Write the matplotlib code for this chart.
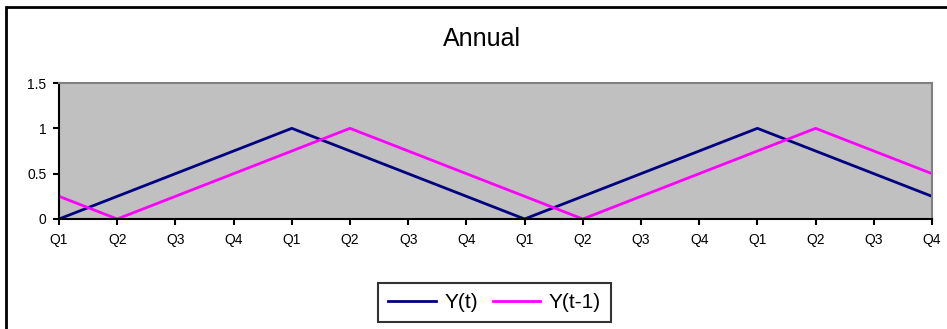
import matplotlib
matplotlib.use("Agg")
import matplotlib.pyplot as plt
from matplotlib.patches import Rectangle

plt.rcParams['font.family'] = ['Liberation Sans', 'DejaVu Sans']

# data
quarters = ["Q1", "Q2", "Q3", "Q4"] * 4
y_t = [0, 0.25, 0.5, 0.75, 1, 0.75, 0.5, 0.25, 0, 0.25, 0.5, 0.75, 1, 0.75, 0.5, 0.25]
y_t1 = [0.25, 0, 0.25, 0.5, 0.75, 1, 0.75, 0.5, 0.25, 0, 0.25, 0.5, 0.75, 1, 0.75, 0.5]
y_ticks = [0, 0.5, 1, 1.5]
y_tick_labels = ["0", "0.5", "1", "1.5"]

W, H = 947, 329
fig = plt.figure(figsize=(W / 100, H / 100), dpi=100)

# outer chart border (clipped on right and bottom like the original)
fig.patches.append(Rectangle((6 / W, 1 - 330 / H), 960 / W, 323 / H,
                             transform=fig.transFigure, fill=False,
                             edgecolor="black", linewidth=2))

ax = fig.add_axes([59 / W, 1 - 219 / H, (932 - 59) / W, (219 - 83) / H])
ax.set_facecolor("#C0C0C0")

x = list(range(len(quarters)))
ax.plot(x, y_t, color="#000080", linewidth=2, label="Y(t)")
ax.plot(x, y_t1, color="#FF00FF", linewidth=2, label="Y(t-1)")

ax.set_xlim(0, len(quarters) - 1)
ax.set_ylim(0, 1.5)
ax.set_xticks(x)
ax.set_xticklabels(quarters, fontsize=10)
ax.set_yticks(y_ticks)
ax.set_yticklabels(y_tick_labels, fontsize=10)
ax.tick_params(direction="out", length=4, width=1.5, colors="black")
ax.tick_params(axis="x", pad=6)
ax.tick_params(axis="y", pad=5)

for side in ["left", "bottom"]:
    ax.spines[side].set_color("black")
    ax.spines[side].set_linewidth(1.5)
for side in ["top", "right"]:
    ax.spines[side].set_color("#808080")
    ax.spines[side].set_linewidth(1.5)

fig.text(482 / W, 1 - 46 / H, "Annual", ha="center", va="baseline", fontsize=18)

leg = fig.legend(loc="center", bbox_to_anchor=(494.5 / W, 1 - 302.5 / H), ncol=2,
                 fontsize=15, frameon=True, fancybox=False, handlelength=2.3,
                 borderpad=0.5, columnspacing=0.7, handletextpad=0.4,
                 borderaxespad=0)
leg.get_frame().set_edgecolor("black")
leg.get_frame().set_linewidth(1.5)

fig.savefig("out.png", dpi=100)
